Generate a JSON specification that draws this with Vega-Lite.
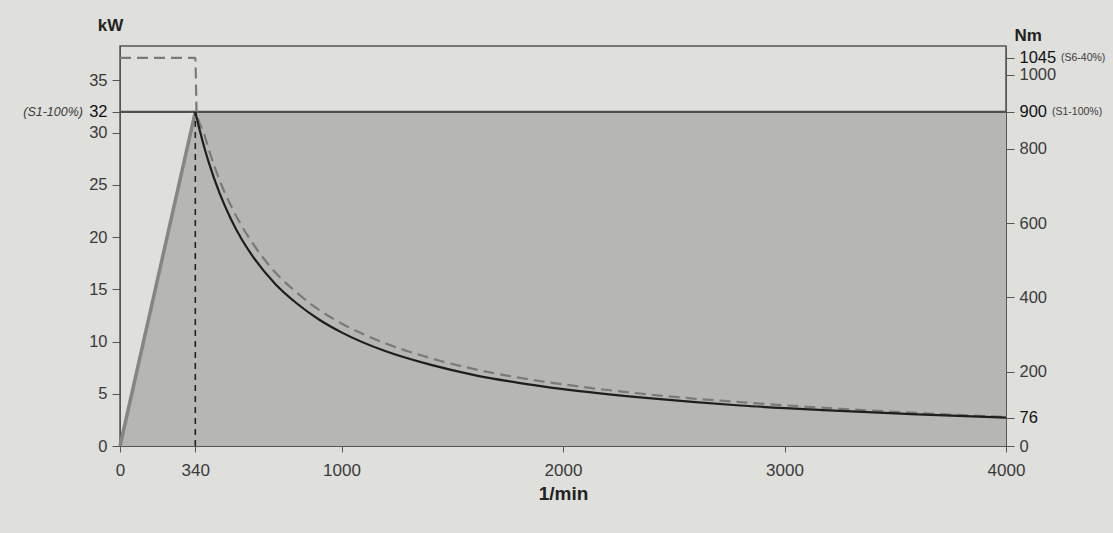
{
  "$schema": "https://vega.github.io/schema/vega-lite/v6.json",
  "autosize": {"type": "none"},
  "width": 886,
  "height": 400,
  "padding": {"left": 120, "top": 46, "right": 107, "bottom": 87},
  "background": "#dfdfdc",
  "config": {
    "font": "Liberation Sans",
    "view": {"stroke": "#555555", "strokeWidth": 1.5},
    "axis": {"domainColor": "#555555", "tickColor": "#555555", "labelColor": "#3a3a3a", "labelFontSize": 16.5, "grid": false}
  },
  "datasets": {
    "power": [
      {"n": 0, "kW": 0},
      {"n": 340, "kW": 32},
      {"n": 4000, "kW": 32}
    ],
    "s1": [
      {"n": 340, "Nm": 900}, {"n": 360, "Nm": 850}, {"n": 380, "Nm": 805}, {"n": 400, "Nm": 765},
      {"n": 450, "Nm": 680}, {"n": 500, "Nm": 612}, {"n": 550, "Nm": 556}, {"n": 600, "Nm": 510},
      {"n": 700, "Nm": 437}, {"n": 800, "Nm": 383}, {"n": 900, "Nm": 340}, {"n": 1000, "Nm": 306},
      {"n": 1200, "Nm": 255}, {"n": 1400, "Nm": 219}, {"n": 1600, "Nm": 191}, {"n": 1800, "Nm": 170},
      {"n": 2000, "Nm": 153}, {"n": 2400, "Nm": 128}, {"n": 2800, "Nm": 109}, {"n": 3200, "Nm": 96},
      {"n": 3600, "Nm": 85}, {"n": 4000, "Nm": 76.5}
    ],
    "s6": [
      {"n": 0, "Nm": 1045}, {"n": 340, "Nm": 1045}, {"n": 346, "Nm": 900}, {"n": 380, "Nm": 840},
      {"n": 400, "Nm": 800}, {"n": 450, "Nm": 715}, {"n": 500, "Nm": 648}, {"n": 550, "Nm": 592},
      {"n": 600, "Nm": 545}, {"n": 700, "Nm": 468}, {"n": 800, "Nm": 412}, {"n": 900, "Nm": 366},
      {"n": 1000, "Nm": 330}, {"n": 1200, "Nm": 276}, {"n": 1400, "Nm": 237}, {"n": 1600, "Nm": 207},
      {"n": 1800, "Nm": 184}, {"n": 2000, "Nm": 166}, {"n": 2400, "Nm": 138}, {"n": 2800, "Nm": 118},
      {"n": 3200, "Nm": 102}, {"n": 3600, "Nm": 89}, {"n": 4000, "Nm": 78}
    ]
  },
  "layer": [
    {
      "layer": [
        {
          "data": {"name": "power"},
          "mark": {"type": "area", "color": "#b6b6b3", "opacity": 1},
          "encoding": {
            "x": {"field": "n", "type": "quantitative", "scale": {"domain": [0, 4000], "nice": false},
              "axis": {"values": [0, 340, 1000, 2000, 3000, 4000], "format": "d", "title": "1/min", "titleFontSize": 19, "titleFontWeight": "bold", "titleColor": "#222222", "labelFontSize": 17, "labelPadding": 10, "tickSize": 6, "titlePadding": 6, "labelFlush": false}},
            "y": {"field": "kW", "type": "quantitative", "scale": {"domain": [0, 38.3], "nice": false},
              "axis": {"values": [0, 5, 10, 15, 20, 25, 30, 32, 35], "title": "kW", "titleAngle": 0, "titleAnchor": "end", "titleAlign": "center", "titleBaseline": "bottom", "titleX": -10, "titleY": -12, "titleFontSize": 17, "titleFontWeight": "bold", "titleColor": "#222222", "tickSize": 8, "labelPadding": 5,
                "labelColor": {"condition": {"test": "datum.value == 32", "value": "#111111"}, "value": "#3a3a3a"}}}
          }
        },
        {
          "data": {"name": "power"},
          "transform": [{"filter": "datum.n <= 340"}],
          "mark": {"type": "line", "color": "#858585", "strokeWidth": 3.5},
          "encoding": {
            "x": {"field": "n", "type": "quantitative"},
            "y": {"field": "kW", "type": "quantitative"}
          }
        },
        {
          "data": {"values": [{"kW": 32, "n0": 0, "n1": 4000}]},
          "mark": {"type": "rule", "color": "#505050", "strokeWidth": 2.2},
          "encoding": {
            "x": {"field": "n0", "type": "quantitative"},
            "x2": {"field": "n1"},
            "y": {"field": "kW", "type": "quantitative"}
          }
        },
        {
          "data": {"values": [{"n": 340, "k0": 0, "k1": 32}]},
          "mark": {"type": "rule", "color": "#222222", "strokeWidth": 1.6, "strokeDash": [6, 5]},
          "encoding": {
            "x": {"field": "n", "type": "quantitative"},
            "y": {"field": "k0", "type": "quantitative"},
            "y2": {"field": "k1"}
          }
        },
        {
          "data": {"values": [{"n": 0, "kW": 32, "label": "(S1-100%)"}]},
          "mark": {"type": "text", "align": "right", "baseline": "middle", "dx": -37, "fontSize": 12.5, "fontStyle": "italic", "color": "#3a3a3a"},
          "encoding": {
            "x": {"field": "n", "type": "quantitative"},
            "y": {"field": "kW", "type": "quantitative"},
            "text": {"field": "label"}
          }
        }
      ]
    },
    {
      "layer": [
        {
          "data": {"name": "s6"},
          "mark": {"type": "line", "color": "#7a7a7a", "strokeWidth": 2.2, "strokeDash": [11, 6], "interpolate": "monotone"},
          "encoding": {
            "x": {"field": "n", "type": "quantitative"},
            "y": {"field": "Nm", "type": "quantitative", "scale": {"domain": [0, 1077], "nice": false},
              "axis": {"orient": "right", "values": [0, 76, 200, 400, 600, 800, 900, 1000, 1045], "format": "d", "title": "Nm", "titleAngle": 0, "titleAnchor": "end", "titleAlign": "left", "titleBaseline": "bottom", "titleX": 8, "titleY": -2, "titleFontSize": 17, "titleFontWeight": "bold", "titleColor": "#222222", "tickSize": 8, "labelPadding": 5,
                "labelColor": {"condition": {"test": "datum.value == 76 || datum.value == 900 || datum.value == 1045", "value": "#111111"}, "value": "#3a3a3a"}}}
          }
        },
        {
          "data": {"name": "s1"},
          "mark": {"type": "line", "color": "#1e1e1e", "strokeWidth": 2.2, "interpolate": "monotone"},
          "encoding": {
            "x": {"field": "n", "type": "quantitative"},
            "y": {"field": "Nm", "type": "quantitative"}
          }
        },
        {
          "data": {"values": [{"n": 4000, "Nm": 900, "label": "(S1-100%)"}]},
          "mark": {"type": "text", "align": "left", "baseline": "middle", "dx": 46, "fontSize": 10.5, "color": "#3a3a3a"},
          "encoding": {
            "x": {"field": "n", "type": "quantitative"},
            "y": {"field": "Nm", "type": "quantitative"},
            "text": {"field": "label"}
          }
        },
        {
          "data": {"values": [{"n": 4000, "Nm": 1045, "label": "(S6-40%)"}]},
          "mark": {"type": "text", "align": "left", "baseline": "middle", "dx": 55, "fontSize": 10.5, "color": "#3a3a3a"},
          "encoding": {
            "x": {"field": "n", "type": "quantitative"},
            "y": {"field": "Nm", "type": "quantitative"},
            "text": {"field": "label"}
          }
        }
      ]
    }
  ],
  "resolve": {"scale": {"y": "independent"}, "axis": {"y": "independent"}}
}
